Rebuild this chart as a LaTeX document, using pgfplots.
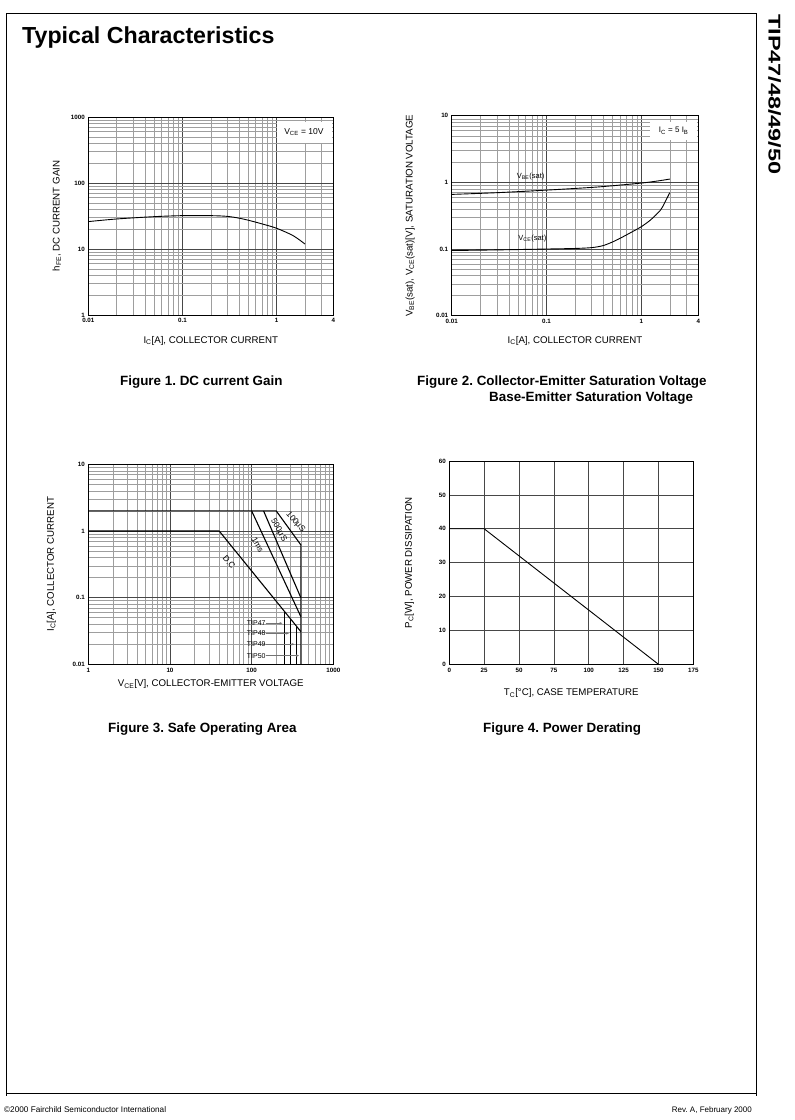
\documentclass[border=0pt]{standalone}
\usepackage{fontspec}
\setmainfont{Liberation Sans}
\usepackage{pgfplots}
\pgfplotsset{compat=1.18}
\usetikzlibrary{arrows.meta}
\frenchspacing

\pgfplotsset{
  sheet/.style={
    scale only axis,
    anchor=south west,
    clip=false,
    axis line style={black, line width=0.8pt},
    major tick length=0pt, minor tick length=0pt,
    tick label style={font=\fontsize{6.2}{7}\selectfont\bfseries},
    label style={font=\fontsize{9.7}{11}\selectfont},
    grid=both,
    major grid style={black!72, line width=0.7pt},
    minor grid style={black!38, line width=0.45pt},
  },
  curve/.style={black, line width=0.9pt, no markers},
}

\begin{document}
\begin{tikzpicture}
\fill[white] (0,0) rectangle (795pt,1120pt);
\path[use as bounding box] (0,0) rectangle (795pt,1120pt);

% page frame and texts
\draw[line width=0.9pt] (6.7pt,1106.7pt) rectangle (756pt,26.7pt);
\draw[line width=0.9pt] (6.7pt,26.7pt) -- (6.7pt,24.3pt) (756pt,26.7pt) -- (756pt,24.3pt);
\node[anchor=base west, inner sep=0pt, font=\fontsize{23.2}{25}\selectfont\bfseries] at (22pt,1076.7pt) {Typical Characteristics};
\node[rotate=-90, anchor=west, inner sep=0pt, font=\fontsize{17}{19}\selectfont\bfseries] at (774.5pt,1106pt) {\scalebox{1.38}[1]{TIP47/48/49/50}};
\node[anchor=base west, inner sep=0pt, font=\fontsize{8.2}{9}\selectfont] at (4pt,7pt) {©2000 Fairchild Semiconductor International};
\node[anchor=base east, inner sep=0pt, font=\fontsize{8}{9}\selectfont] at (752pt,7pt) {Rev. A, February 2000};

\begin{scope}[every node/.style={inner sep=0pt, font=\fontsize{13.4}{15}\selectfont\bfseries}]
\node[anchor=base west] at (120pt,734.5pt) {Figure 1. DC current Gain};
\node[anchor=base west] at (417pt,734.5pt) {Figure 2. Collector-Emitter Saturation Voltage};
\node[anchor=base west] at (489pt,718.5pt) {Base-Emitter Saturation Voltage};
\node[anchor=base west] at (108pt,387.5pt) {Figure 3. Safe Operating Area};
\node[anchor=base west] at (483pt,387.5pt) {Figure 4. Power Derating};
\end{scope}

% Figure 1
\begin{axis}[sheet, at={(88.3pt,805pt)}, width=245pt, height=198pt,
  xmode=log, ymode=log, xmin=0.01, xmax=4, ymin=1, ymax=1000,
  xtick={0.01,0.1,1,4}, xticklabels={0.01,0.1,1,4},
  minor xtick={0.02,0.03,0.04,0.05,0.06,0.07,0.08,0.09,0.2,0.3,0.4,0.5,0.6,0.7,0.8,0.9,2,3},
  ytick={1,10,100,1000}, yticklabels={1,10,100,1000},
  minor ytick={2,3,4,5,6,7,8,9,20,30,40,50,60,70,80,90,200,300,400,500,600,700,800,900},
  xlabel={I\textsubscript{C}[A], COLLECTOR CURRENT},
  ylabel={h\textsubscript{FE}, DC CURRENT GAIN},
  xlabel style={at={([yshift=-25.5pt]axis description cs:0.5,0)}, anchor=center},
  ylabel style={at={([xshift=-31.5pt]axis description cs:0,0.5)}, anchor=center},
]
\addplot[curve, smooth] coordinates {
  (0.01,26.0) (0.02,28.5) (0.05,30.9) (0.1,32.0) (0.2,32.0) (0.3,31.2)
  (0.4,29.3) (0.5,27.3) (0.7,24.0) (1,20.6) (1.5,15.9) (2,11.9)
};
\fill[white] (axis cs:1.01,408) rectangle (axis cs:3.9,850);
\node[font=\fontsize{8.5}{10}\selectfont] at (axis cs:1.95,590) {V\textsubscript{CE} = 10V};
\end{axis}

% Figure 2
\begin{axis}[sheet, at={(451.7pt,804.3pt)}, width=246.6pt, height=200pt,
  xmode=log, ymode=log, xmin=0.01, xmax=4, ymin=0.01, ymax=10,
  xtick={0.01,0.1,1,4}, xticklabels={0.01,0.1,1,4},
  minor xtick={0.02,0.03,0.04,0.05,0.06,0.07,0.08,0.09,0.2,0.3,0.4,0.5,0.6,0.7,0.8,0.9,2,3},
  ytick={0.01,0.1,1,10}, yticklabels={0.01,0.1,1,10},
  minor ytick={0.02,0.03,0.04,0.05,0.06,0.07,0.08,0.09,0.2,0.3,0.4,0.5,0.6,0.7,0.8,0.9,2,3,4,5,6,7,8,9},
  xlabel={I\textsubscript{C}[A], COLLECTOR CURRENT},
  ylabel={V\textsubscript{BE}(sat), V\textsubscript{CE}(sat)[V], SATURATION VOLTAGE},
  xlabel style={at={([yshift=-25pt]axis description cs:0.5,0)}, anchor=center},
  ylabel style={at={([xshift=-41.7pt]axis description cs:0,0.5)}, anchor=center},
]
\addplot[curve, smooth] coordinates {
  (0.01,0.66) (0.03,0.70) (0.1,0.765) (0.3,0.84) (0.5,0.89) (1,0.975) (1.5,1.05) (2,1.12)
};
\addplot[curve, smooth] coordinates {
  (0.01,0.095) (0.03,0.097) (0.1,0.100) (0.2,0.102) (0.3,0.105) (0.4,0.113) (0.548,0.136)
  (0.83,0.186) (1,0.216) (1.25,0.272) (1.6,0.385) (1.8,0.52) (2,0.70)
};
\fill[white] (axis cs:1.24,4.32) rectangle (axis cs:3.9,8.05);
\node[font=\fontsize{8}{10}\selectfont] at (axis cs:2.2,5.9) {I\textsubscript{C} = 5 I\textsubscript{B}};
\node[font=\fontsize{7.5}{9}\selectfont] at (axis cs:0.068,1.22) {V\textsubscript{BE}(sat)};
\node[font=\fontsize{7.5}{9}\selectfont] at (axis cs:0.071,0.145) {V\textsubscript{CE}(sat)};
\end{axis}

% Figure 3
\begin{axis}[sheet, at={(88.3pt,455.7pt)}, width=245pt, height=200pt,
  xmode=log, ymode=log, xmin=1, xmax=1000, ymin=0.01, ymax=10,
  xtick={1,10,100,1000}, xticklabels={1,10,100,1000},
  minor xtick={2,3,4,5,6,7,8,9,20,30,40,50,60,70,80,90,200,300,400,500,600,700,800,900},
  ytick={0.01,0.1,1,10}, yticklabels={0.01,0.1,1,10},
  minor ytick={0.02,0.03,0.04,0.05,0.06,0.07,0.08,0.09,0.2,0.3,0.4,0.5,0.6,0.7,0.8,0.9,2,3,4,5,6,7,8,9},
  xlabel={V\textsubscript{CE}[V], COLLECTOR-EMITTER VOLTAGE},
  ylabel={I\textsubscript{C}[A], COLLECTOR CURRENT},
  xlabel style={at={([yshift=-20pt]axis description cs:0.5,0)}, anchor=center},
  ylabel style={at={([xshift=-37pt]axis description cs:0,0.5)}, anchor=center},
]
\addplot[curve, line width=1.1pt] coordinates {(1,2) (200,2) (400,0.62) (400,0.01)};
\addplot[curve, line width=1.1pt] coordinates {(100,2) (400,0.052)};
\addplot[curve, line width=1.1pt] coordinates {(140,2) (400,0.1)};
\addplot[curve, line width=1.1pt] coordinates {(1,1) (40,1) (400,0.031)};
\addplot[curve, line width=1.1pt] coordinates {(250,0.01) (250,0.0628)};
\addplot[curve, line width=1.1pt] coordinates {(300,0.01) (300,0.0477)};
\addplot[curve, line width=1.1pt] coordinates {(350,0.01) (350,0.0378)};
\begin{scope}[every node/.style={font=\fontsize{8.3}{9}\selectfont, inner sep=0pt}]
\node[rotate=-48] at (axis cs:345,1.35) {100µS};
\node[rotate=-60] at (axis cs:214,1.02) {500µS};
\node[rotate=-60] at (axis cs:119,0.62) {1ms};
\node[rotate=-50] at (axis cs:53,0.34) {D.C};
\end{scope}
\begin{scope}[every node/.style={font=\fontsize{7}{8}\selectfont, inner sep=0pt, anchor=west}]
\node at (axis cs:87,0.0413) {TIP47};
\node at (axis cs:87,0.0292) {TIP48};
\node at (axis cs:87,0.0200) {TIP49};
\node at (axis cs:87,0.0135) {TIP50};
\end{scope}
\begin{scope}[black!55, line width=0.6pt, -{Stealth[length=3pt,width=2.5pt]}]
\draw (axis cs:148,0.0413) -- (axis cs:238,0.0413);
\draw (axis cs:148,0.0292) -- (axis cs:287,0.0292);
\draw (axis cs:148,0.0200) -- (axis cs:334,0.0200);
\draw (axis cs:148,0.0135) -- (axis cs:381,0.0135);
\end{scope}
\end{axis}

% Figure 4
\begin{axis}[sheet, at={(449.3pt,455.7pt)}, width=244pt, height=203.3pt,
  xmin=0, xmax=175, ymin=0, ymax=60,
  grid=major,
  xtick={0,25,50,75,100,125,150,175}, xticklabels={0,25,50,75,100,125,150,175},
  ytick={0,10,20,30,40,50,60}, yticklabels={0,10,20,30,40,50,60},
  xlabel={T\textsubscript{C}[°C], CASE TEMPERATURE},
  ylabel={P\textsubscript{C}[W], POWER DISSIPATION},
  xlabel style={at={([yshift=-29pt]axis description cs:0.5,0)}, anchor=center},
  ylabel style={at={([xshift=-40pt]axis description cs:0,0.5)}, anchor=center},
]
\addplot[curve] coordinates {(0,40) (25,40) (150,0)};
\end{axis}
\end{tikzpicture}
\end{document}
